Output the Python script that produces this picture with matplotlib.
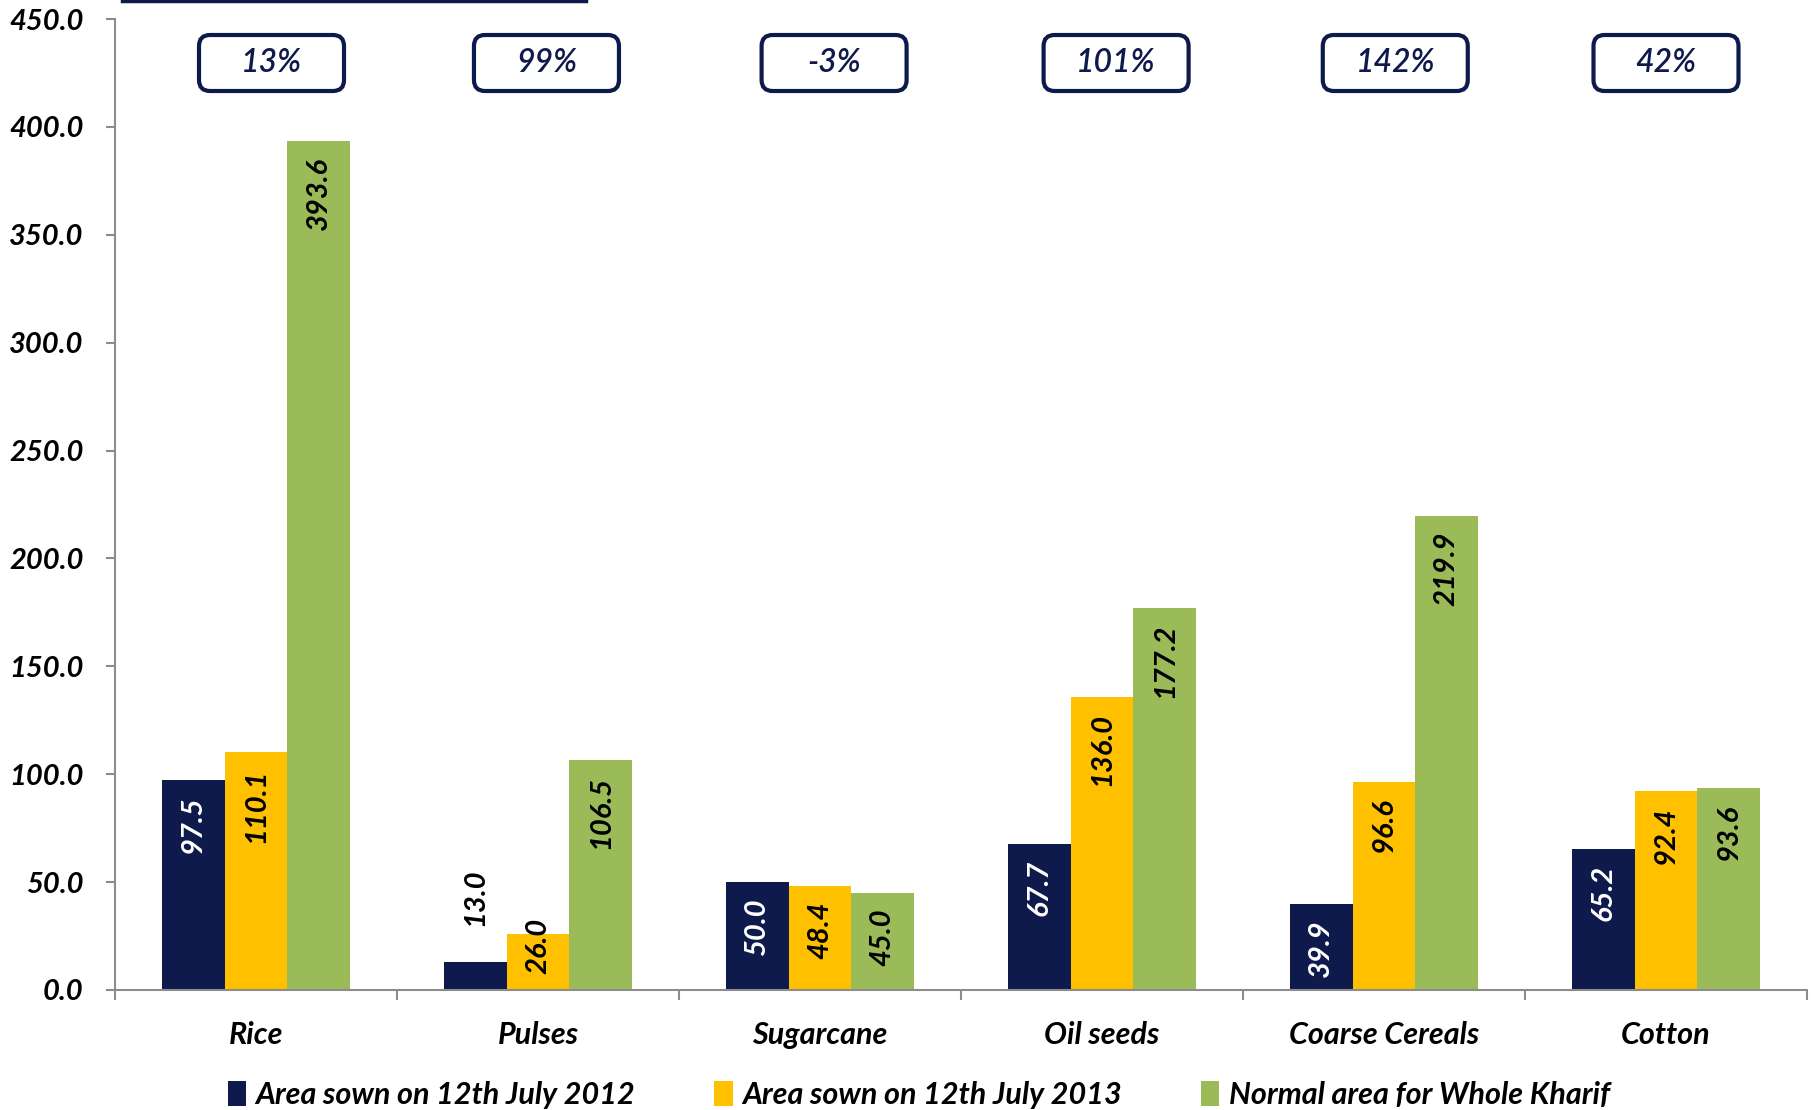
import matplotlib
matplotlib.use("Agg")
import matplotlib.pyplot as plt
import numpy as np
from matplotlib.patches import FancyBboxPatch
from matplotlib.lines import Line2D
import matplotlib.transforms as mtrans

categories = ["Rice", "Pulses", "Sugarcane", "Oil seeds", "Coarse Cereals", "Cotton"]
area_2012 = [97.5, 13.0, 50.0, 67.7, 39.9, 65.2]
area_2013 = [110.1, 26.0, 48.4, 136.0, 96.6, 92.4]
normal_area = [393.6, 106.5, 45.0, 177.2, 219.9, 93.6]
pct_change = ["13%", "99%", "-3%", "101%", "142%", "42%"]
series_names = ["Area sown on 12th July 2012", "Area sown on 12th July 2013",
                "Normal area for Whole Kharif"]
yticks = [0, 50, 100, 150, 200, 250, 300, 350, 400, 450]

# layout: horizontal offsets of the percentage boxes from category centres
box_dx = [0.055, 0.03, 0.05, 0.05, 0.04, 0.0]

NAVY = "#0F1A4C"
YELLOW = "#FFC000"
GREEN = "#9BBB59"
GRAY = "#8C8C8C"
FONT = ["Lato", "DejaVu Sans"]

W, H = 1812, 1110
fig = plt.figure(figsize=(W / 100, H / 100), dpi=100)
ax = fig.add_axes([115 / W, 1 - 990 / H, (1807 - 115) / W, (990 - 19) / H])

n = len(categories)
x = np.arange(n)
bw = 0.223
series = [area_2012, area_2013, normal_area]
colors = [NAVY, YELLOW, GREEN]
label_colors = ["white", "black", "black"]

ax.set_xlim(-0.5, n - 0.5)
ax.set_ylim(0, 450)

px_per_unit = (990 - 19) / 450.0
px_per_cat = (1807 - 115) / n
for i, (vals, c, lc) in enumerate(zip(series, colors, label_colors)):
    xs = x + (i - 1) * bw
    ax.bar(xs, vals, width=bw, color=c, edgecolor="none", label=series_names[i], zorder=2)
    for xx, v in zip(xs, vals):
        hpx = v * px_per_unit
        txt = f"{v:.1f}"
        kw = dict(rotation=90, ha="center", fontsize=21, fontweight="bold",
                  fontstyle="italic", family=FONT, zorder=3)
        if hpx < 40:
            off = mtrans.offset_copy(ax.transData, fig=fig, x=0, y=36, units="dots")
            ax.text(xx, v, txt, va="bottom", color="black", transform=off, **kw)
        elif hpx < 75:
            off = mtrans.offset_copy(ax.transData, fig=fig, x=0, y=16, units="dots")
            ax.text(xx, 0, txt, va="bottom", color=lc, transform=off, **kw)
        else:
            off = mtrans.offset_copy(ax.transData, fig=fig, x=0, y=-16, units="dots")
            ax.text(xx, v, txt, va="top", color=lc, transform=off, **kw)

# percentage boxes
box_w = 145 / px_per_cat
hh = 56 / px_per_unit
yc = 450 - (63 - 19) / px_per_unit
for xi, dx, p in zip(x, box_dx, pct_change):
    cx = xi + dx
    box = FancyBboxPatch((cx - box_w / 2, yc - hh / 2), box_w, hh,
                         boxstyle=f"round,pad=0,rounding_size={11 / px_per_cat}",
                         mutation_aspect=px_per_cat / px_per_unit,
                         facecolor="white", edgecolor=NAVY, linewidth=3.0, zorder=4,
                         clip_on=False)
    ax.add_patch(box)
    ax.text(cx, yc, p, ha="center", va="center", fontsize=23, fontstyle="italic",
            fontweight="semibold", color=NAVY, family=FONT, zorder=5)

# axes styling
for s in ["top", "right"]:
    ax.spines[s].set_visible(False)
for s in ["left", "bottom"]:
    ax.spines[s].set_color(GRAY)
    ax.spines[s].set_linewidth(1.5)

ax.set_yticks(yticks)
ax.set_yticklabels([f"{t:.1f}" for t in yticks], fontsize=21, fontweight="bold",
                   fontstyle="italic", family=FONT)
ax.tick_params(axis="y", direction="out", length=6.5, width=1.5, color=GRAY, pad=16)

ax.set_xticks(x)
ax.set_xticklabels(categories, fontsize=22, fontweight="bold", fontstyle="italic",
                   family=FONT)
ax.tick_params(axis="x", which="major", length=0, pad=22)
ax.set_xticks(np.arange(n + 1) - 0.5, minor=True)
ax.tick_params(axis="x", which="minor", direction="out", length=7.5, width=1.5, color=GRAY)

# top line (cut-off title underline)
fig.add_artist(Line2D([122 / W, 586 / W], [1 - 1.2 / H, 1 - 1.2 / H],
                      color=NAVY, linewidth=2.5, transform=fig.transFigure))

leg = fig.legend(loc="center", bbox_to_anchor=(0.507, 1 - 1095 / H), ncol=3,
                 frameon=False, handlelength=0.6, handleheight=0.9, handletextpad=0.3,
                 columnspacing=2.6,
                 prop=dict(family=FONT, size=22, weight="bold", style="italic"))

fig.savefig("out.png", dpi=100)
